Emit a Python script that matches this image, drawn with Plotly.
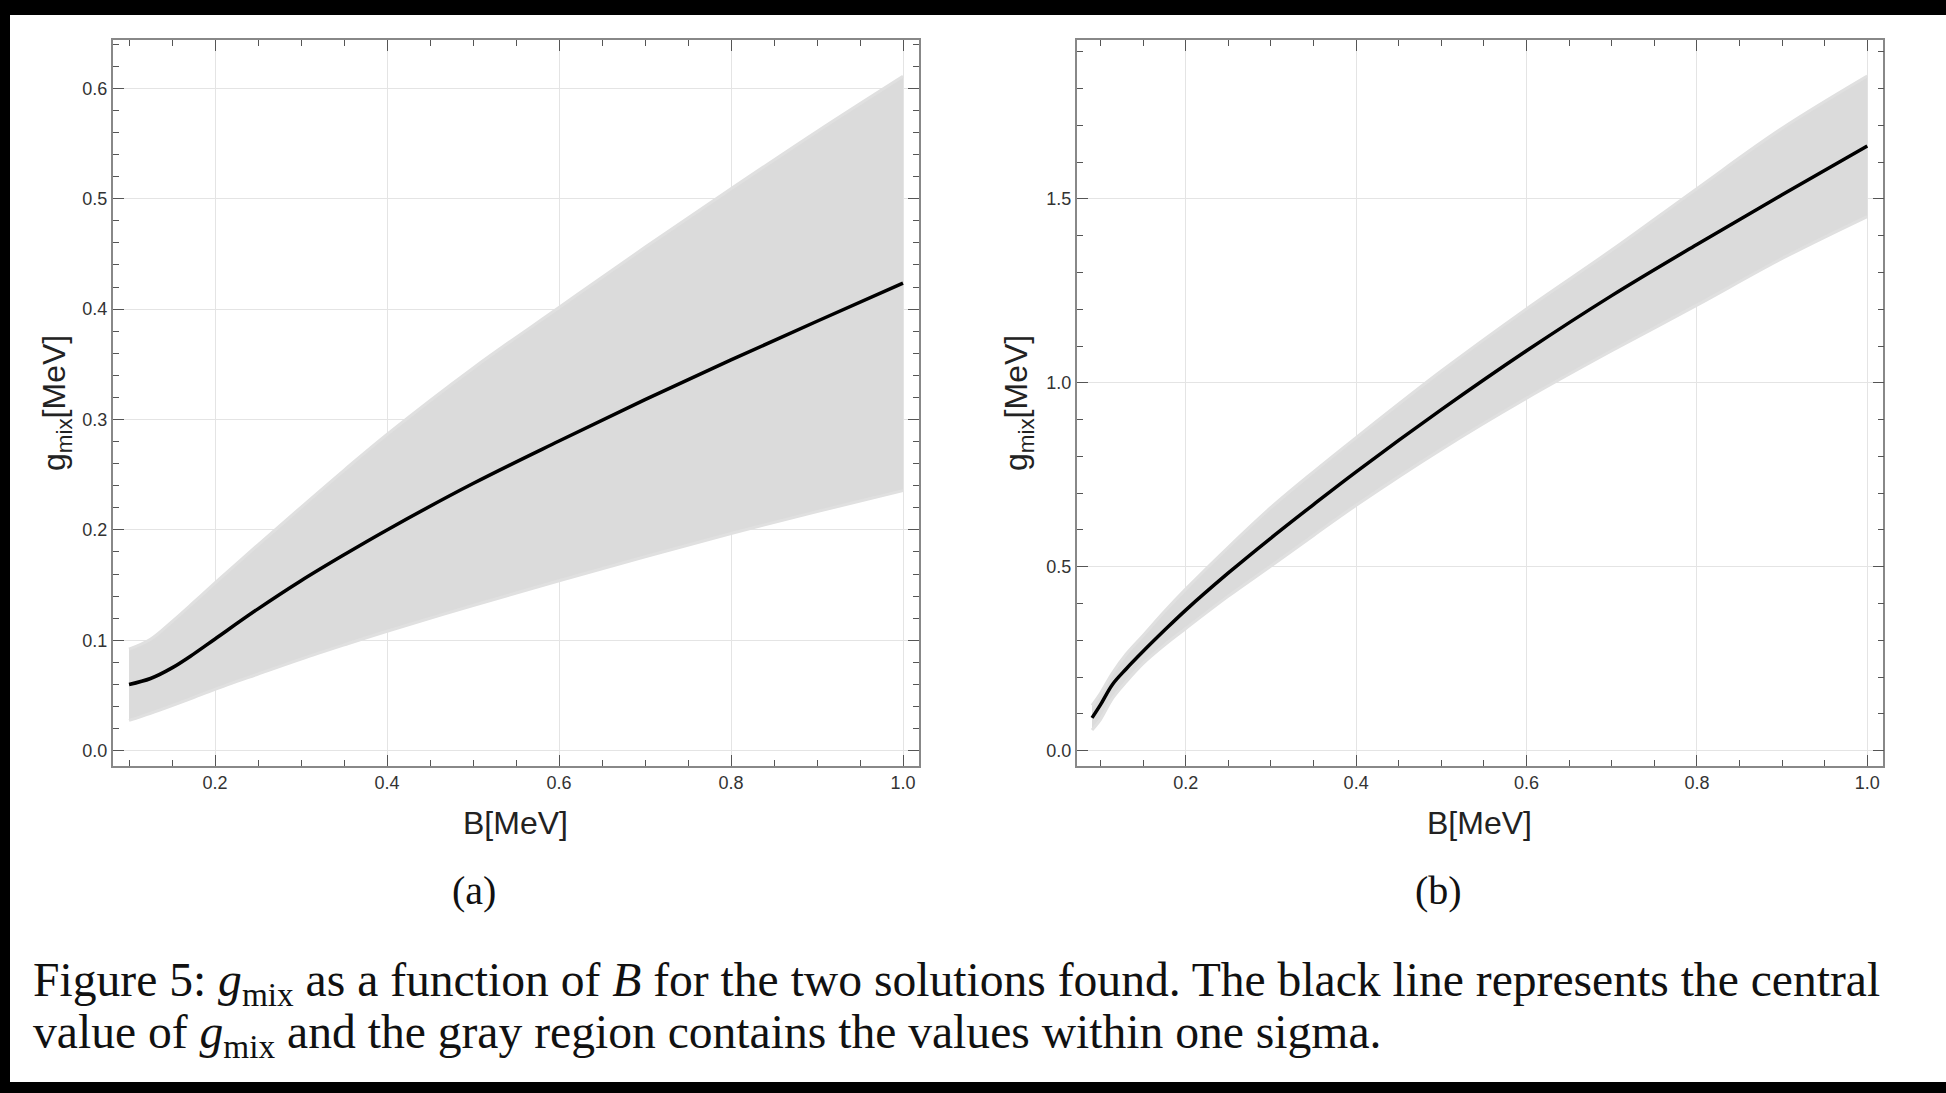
import plotly.graph_objects as go

# ---------------- data ----------------
B_a = [0.10, 0.125, 0.15, 0.175, 0.20, 0.25, 0.30, 0.35, 0.40, 0.50, 0.60, 0.70, 0.80, 0.90, 1.00]
g_a_central = [0.060, 0.0654, 0.0750, 0.0875, 0.1012, 0.1285, 0.1540, 0.1775, 0.2000, 0.2420, 0.2805, 0.3180, 0.3540, 0.3890, 0.4235]
g_a_upper = [0.092, 0.1010, 0.1170, 0.1343, 0.1520, 0.1865, 0.2205, 0.2540, 0.2865, 0.3465, 0.4015, 0.4560, 0.5090, 0.5610, 0.6110]
g_a_lower = [0.0274, 0.0338, 0.0408, 0.0481, 0.0556, 0.0694, 0.0830, 0.0958, 0.1082, 0.1315, 0.1540, 0.1757, 0.1968, 0.2166, 0.2356]

B_b = [0.09, 0.10, 0.114, 0.13, 0.15, 0.175, 0.20, 0.25, 0.30, 0.35, 0.40, 0.50, 0.60, 0.70, 0.80, 0.90, 1.00]
g_b_central = [0.089, 0.125, 0.180, 0.222, 0.270, 0.327, 0.382, 0.483, 0.578, 0.669, 0.758, 0.927, 1.087, 1.237, 1.376, 1.511, 1.644]
g_b_upper = [0.123, 0.156, 0.211, 0.262, 0.313, 0.378, 0.439, 0.553, 0.661, 0.758, 0.851, 1.032, 1.201, 1.361, 1.528, 1.692, 1.834]
g_b_lower = [0.056, 0.085, 0.142, 0.187, 0.237, 0.287, 0.332, 0.420, 0.502, 0.585, 0.667, 0.819, 0.958, 1.087, 1.211, 1.338, 1.452]

x_title = "B[MeV]"
y_title = "g<sub>mix</sub>[MeV]"
panel_labels = ["(a)", "(b)"]
caption_1 = "Figure 5: <i>g</i><sub>mix</sub> as a function of <i>B</i> for the two solutions found. The black line represents the central"
caption_2 = "value of <i>g</i><sub>mix</sub> and the gray region contains the values within one sigma."

# ---------------- styling ----------------
W, H = 1946, 1093
BAND_FILL = "rgb(219,219,219)"
BAND_EDGE = "rgb(224,224,224)"
SANS = "Liberation Sans, Arial, sans-serif"
SERIF = "Liberation Serif, Times New Roman, serif"

fig = go.Figure()


def add_panel(B, lo, up, cen, xa, ya):
    fig.add_trace(go.Scatter(x=B, y=lo, mode="lines", line=dict(color=BAND_EDGE, width=3, shape="spline"),
                             xaxis=xa, yaxis=ya, showlegend=False, hoverinfo="skip"))
    fig.add_trace(go.Scatter(x=B, y=up, mode="lines", line=dict(color=BAND_EDGE, width=3, shape="spline"),
                             fill="tonexty", fillcolor=BAND_FILL,
                             xaxis=xa, yaxis=ya, showlegend=False, hoverinfo="skip"))
    fig.add_trace(go.Scatter(x=B, y=cen, mode="lines", line=dict(color="black", width=3.5, shape="spline"),
                             xaxis=xa, yaxis=ya, showlegend=False))


add_panel(B_a, g_a_lower, g_a_upper, g_a_central, "x", "y")
add_panel(B_b, g_b_lower, g_b_upper, g_b_central, "x2", "y2")


def axis_style(domain, rng, dtick, minor_dtick, anchor):
    return dict(
        domain=domain, range=rng, anchor=anchor, tick0=0, dtick=dtick, tickformat=".1f",
        ticks="inside", ticklen=11, tickwidth=1.2, tickcolor="#555",
        showline=True, linecolor="#888888", linewidth=1.6, mirror="allticks",
        showgrid=True, gridcolor="#e4e4e4", gridwidth=1, zeroline=False,
        minor=dict(dtick=minor_dtick, tick0=0, ticks="inside", ticklen=6, tickwidth=1.1,
                   tickcolor="#555", showgrid=False),
        tickfont=dict(family=SANS, size=18, color="#333"),
    )


ydom = [(H - 765.7) / H, (H - 40) / H]
fig.update_layout(
    width=W, height=H, margin=dict(l=0, r=0, t=0, b=0),
    paper_bgcolor="white", plot_bgcolor="white",
    xaxis=axis_style([112.7 / W, 919 / W], [0.081, 1.0186], 0.2, 0.05, "y"),
    yaxis=axis_style(ydom, [-0.0136, 0.6438], 0.1, 0.02, "x"),
    xaxis2=axis_style([1076.7 / W, 1883.3 / W], [0.072, 1.0188], 0.2, 0.05, "y2"),
    yaxis2=axis_style(ydom, [-0.041, 1.932], 0.5, 0.1, "x2"),
)

ann = []
# axis titles
for cx in (515, 1479):
    ann.append(dict(text=x_title, x=cx / W, y=1 - 823 / H, xref="paper", yref="paper",
                    xanchor="center", yanchor="middle",
                    showarrow=False, font=dict(family=SANS, size=32, color="#222")))
for cx in (56, 1018):
    ann.append(dict(text=y_title, x=cx / W, y=1 - 403 / H, xref="paper", yref="paper", textangle=-90,
                    xanchor="center", yanchor="middle",
                    showarrow=False, font=dict(family=SANS, size=32, color="#222")))
# panel labels
for cx, lab in zip((474, 1438), panel_labels):
    ann.append(dict(text=lab, x=cx / W, y=1 - 890 / H, xref="paper", yref="paper",
                    xanchor="center", yanchor="middle",
                    showarrow=False, font=dict(family=SERIF, size=40, color="#111")))
# caption
ann.append(dict(text=caption_1, x=31 / W, y=1 - 983 / H, xref="paper", yref="paper",
                xanchor="left", yanchor="middle",
                showarrow=False, font=dict(family=SERIF, size=47.6, color="#111")))
ann.append(dict(text=caption_2, x=31 / W, y=1 - 1035 / H, xref="paper", yref="paper",
                xanchor="left", yanchor="middle",
                showarrow=False, font=dict(family=SERIF, size=47.6, color="#111")))
fig.update_layout(annotations=ann)

# black torn-edge borders (decoration)
shapes = [
    dict(type="rect", xref="paper", yref="paper", x0=0, x1=1, y0=1 - 15 / H, y1=1,
         fillcolor="black", line=dict(width=0), layer="above"),
    dict(type="rect", xref="paper", yref="paper", x0=0, x1=1, y0=0, y1=11 / H,
         fillcolor="black", line=dict(width=0), layer="above"),
    dict(type="rect", xref="paper", yref="paper", x0=0, x1=10 / W, y0=0, y1=1,
         fillcolor="black", line=dict(width=0), layer="above"),
]
fig.update_layout(shapes=shapes)

fig.write_html("out.html")
